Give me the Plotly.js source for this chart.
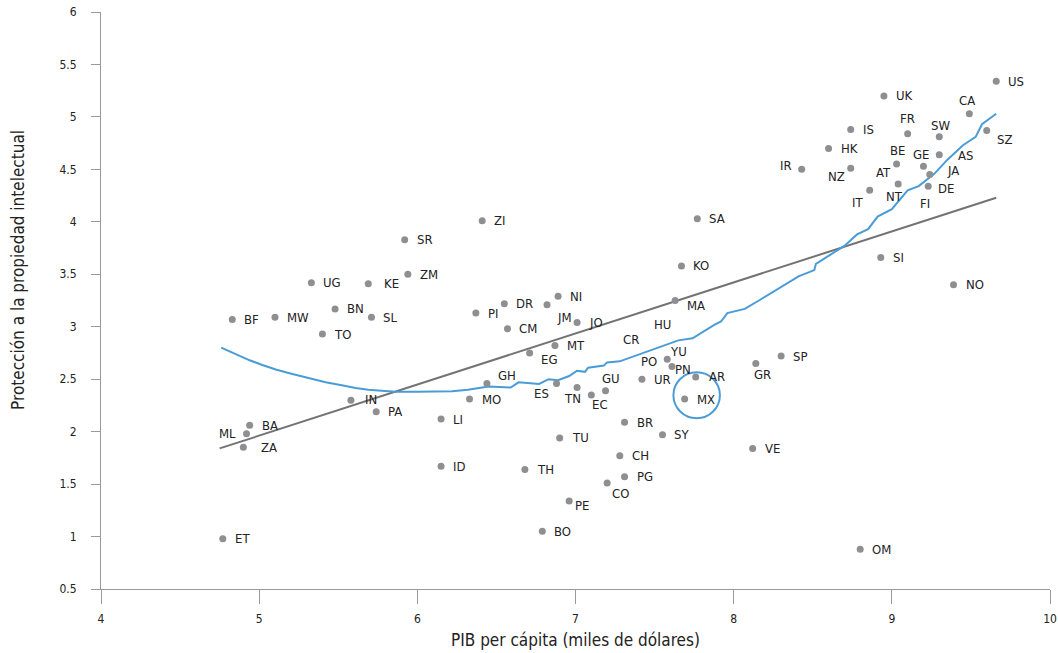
<!DOCTYPE html>
<html>
<head>
<meta charset="utf-8">
<script src="https://cdn.plot.ly/plotly-3.0.1.min.js"></script>
<style>html,body{margin:0;padding:0;background:#fff}#chart{width:1058px;height:653px}</style>
</head>
<body>
<div id="chart"></div>
<script>
// ---- Data ----
const codes = ["ET","ML","BA","ZA","BF","MW","BN","TO","UG","KE","SL","SR","ZM","ZI","IN","PA","LI","ID","MO","PI","DR","CM","GH","EG","TH","BO","JM","NI","MT","ES","TU","PE","JO","TN","EC","GU","CO","CH","PG","BR","UR","SY","YU","PN","MA","KO","MX","AR","SA","VE","GR","SP","IR","HK","NZ","IS","OM","IT","SI","UK","BE","NT","FR","GE","DE","JA","SW","AS","NO","CA","SZ","US"];
const gdp = [4.77,4.92,4.94,4.90,4.83,5.10,5.48,5.40,5.33,5.69,5.71,5.92,5.94,6.41,5.58,5.74,6.15,6.15,6.33,6.37,6.55,6.57,6.44,6.71,6.68,6.79,6.82,6.89,6.87,6.88,6.90,6.96,7.01,7.01,7.10,7.19,7.20,7.28,7.31,7.31,7.42,7.55,7.58,7.61,7.63,7.67,7.69,7.76,7.77,8.12,8.14,8.30,8.43,8.60,8.74,8.74,8.80,8.86,8.93,8.95,9.03,9.04,9.10,9.20,9.23,9.24,9.30,9.30,9.39,9.49,9.60,9.66];
const ipp = [0.98,1.98,2.06,1.85,3.07,3.09,3.17,2.93,3.42,3.41,3.09,3.83,3.50,4.01,2.30,2.19,2.12,1.67,2.31,3.13,3.22,2.98,2.46,2.75,1.64,1.05,3.21,3.29,2.82,2.46,1.94,1.34,3.04,2.42,2.35,2.39,1.51,1.77,1.57,2.09,2.50,1.97,2.69,2.62,3.25,3.58,2.31,2.52,4.03,1.84,2.65,2.72,4.50,4.70,4.51,4.88,0.88,4.30,3.66,5.20,4.55,4.36,4.84,4.53,4.34,4.45,4.81,4.64,3.40,5.03,4.87,5.34];

// labels shown without a visible marker in the original
const extraCodes = ["AT","FI","PO","CR","HU"];
const extraGdp = [8.945,9.208,7.463,7.350,7.547];
const extraIpp = [4.47,4.17,2.67,2.88,3.02];

// linear fit
const trendX = [4.75, 9.66];
const trendY = [1.84, 4.23];

// nonparametric (smoothed) fit
const smoothX = [4.76,4.85,4.94,5.02,5.11,5.21,5.32,5.42,5.53,5.61,5.69,5.78,5.86,6.00,6.11,6.22,6.32,6.41,6.45,6.59,6.64,6.77,6.83,6.89,6.96,7.01,7.06,7.08,7.18,7.20,7.28,7.65,7.74,7.88,7.92,7.96,8.07,8.16,8.41,8.51,8.52,8.70,8.78,8.85,8.91,9.00,9.10,9.17,9.27,9.35,9.45,9.53,9.57,9.66];
const smoothY = [2.80,2.74,2.68,2.635,2.59,2.55,2.51,2.47,2.44,2.415,2.40,2.39,2.38,2.38,2.38,2.385,2.40,2.42,2.43,2.42,2.47,2.455,2.50,2.49,2.53,2.58,2.57,2.61,2.63,2.66,2.67,2.87,2.89,3.02,3.05,3.13,3.17,3.25,3.48,3.54,3.60,3.77,3.88,3.93,4.05,4.12,4.30,4.34,4.46,4.59,4.73,4.81,4.93,5.03];

// highlighted country
const highlight = {x: 7.766, y: 2.347, rx: 0.147, ry: 0.219};

const xTitle = "PIB per cápita (miles de dólares)";
const yTitle = "Protección a la propiedad intelectual";

// ---- Styles ----
const FONT = "'DejaVu Sans Condensed','Liberation Sans Narrow','Roboto Condensed',Roboto,sans-serif";
const BLUE = "#4a9cd6";
const place = {
  ML:['right',-9,0], CA:['center',-2,13], FR:['center',0,15], SW:['center',1,11],
  SZ:['left',8,-9], BE:['center',1,14], GE:['center',-2,12], AS:['left',17,-1],
  JA:['left',15,4], NZ:['center',-14,-8], IR:['center',-16,4], IT:['center',-12,-12],
  NT:['center',-4,-12], DE:['left',8,-2], GR:['center',7,-11], YU:['center',11,8],
  PN:['center',11,-3], GU:['center',5,12], EC:['center',9,-10], TN:['center',-5,-11],
  ES:['center',-15,-10], GH:['center',20,8], EG:['center',19,-7], JM:['center',17,-13],
  MA:['left',10,-5], CO:['center',13,-10], PE:['center',13,-5], ZA:['left',16,0],
  AR:['left',11,1], IN:['left',12,1], KE:['left',14,0]
};

const annotations = [];
codes.forEach((c,i)=>{
  const p = place[c] || ['left',10,0];
  annotations.push({x:gdp[i], y:ipp[i], text:c, showarrow:false, xanchor:p[0], yanchor:'middle',
    xshift:p[1], yshift:p[2], font:{family:FONT, size:13, color:'#222'}});
});
extraCodes.forEach((c,i)=>{
  annotations.push({x:extraGdp[i], y:extraIpp[i], text:c, showarrow:false, xanchor:'center', yanchor:'middle',
    font:{family:FONT, size:13, color:'#222'}});
});
// y-axis title (placed as in the original, above the plot's centre)
annotations.push({text:yTitle, xref:'paper', yref:'paper', x:0, y:0.553, xanchor:'center', yanchor:'middle',
  xshift:-83, textangle:-90, showarrow:false, font:{family:FONT, size:17, color:'#222'}});

const traces = [
  {x:trendX, y:trendY, mode:'lines', line:{color:'#737373', width:2}, hoverinfo:'skip'},
  {x:smoothX, y:smoothY, mode:'lines', line:{color:BLUE, width:2}, hoverinfo:'skip'},
  {x:gdp, y:ipp, mode:'markers', marker:{color:'#8f8f91', size:7}, text:codes}
];

const layout = {
  width:1058, height:653,
  margin:{l:101, r:8, t:12, b:64},
  paper_bgcolor:'#fff', plot_bgcolor:'#fff',
  showlegend:false,
  font:{family:FONT, color:'#222'},
  xaxis:{range:[4,10], tickvals:[4,5,6,7,8,9,10], showgrid:false, zeroline:false,
    showline:true, linecolor:'#9a9a9a', linewidth:1, ticks:'outside', ticklen:14, tickcolor:'#9a9a9a',
    tickfont:{family:FONT, size:12, color:'#222'}, ticklabelstandoff:5,
    title:{text:xTitle, font:{family:FONT, size:17, color:'#222'}, standoff:8}},
  yaxis:{range:[0.5,6], dtick:0.5, tick0:0.5, showgrid:false, zeroline:false,
    showline:true, linecolor:'#9a9a9a', linewidth:1, ticks:'outside', ticklen:9, tickcolor:'#9a9a9a',
    tickfont:{family:FONT, size:12, color:'#222'}, ticklabelstandoff:12},
  shapes:[{type:'circle', xref:'x', yref:'y', x0:highlight.x-highlight.rx, x1:highlight.x+highlight.rx,
    y0:highlight.y-highlight.ry, y1:highlight.y+highlight.ry, line:{color:BLUE, width:2}}],
  annotations:annotations
};

Plotly.newPlot('chart', traces, layout, {displayModeBar:false, staticPlot:true});
</script>
</body>
</html>
